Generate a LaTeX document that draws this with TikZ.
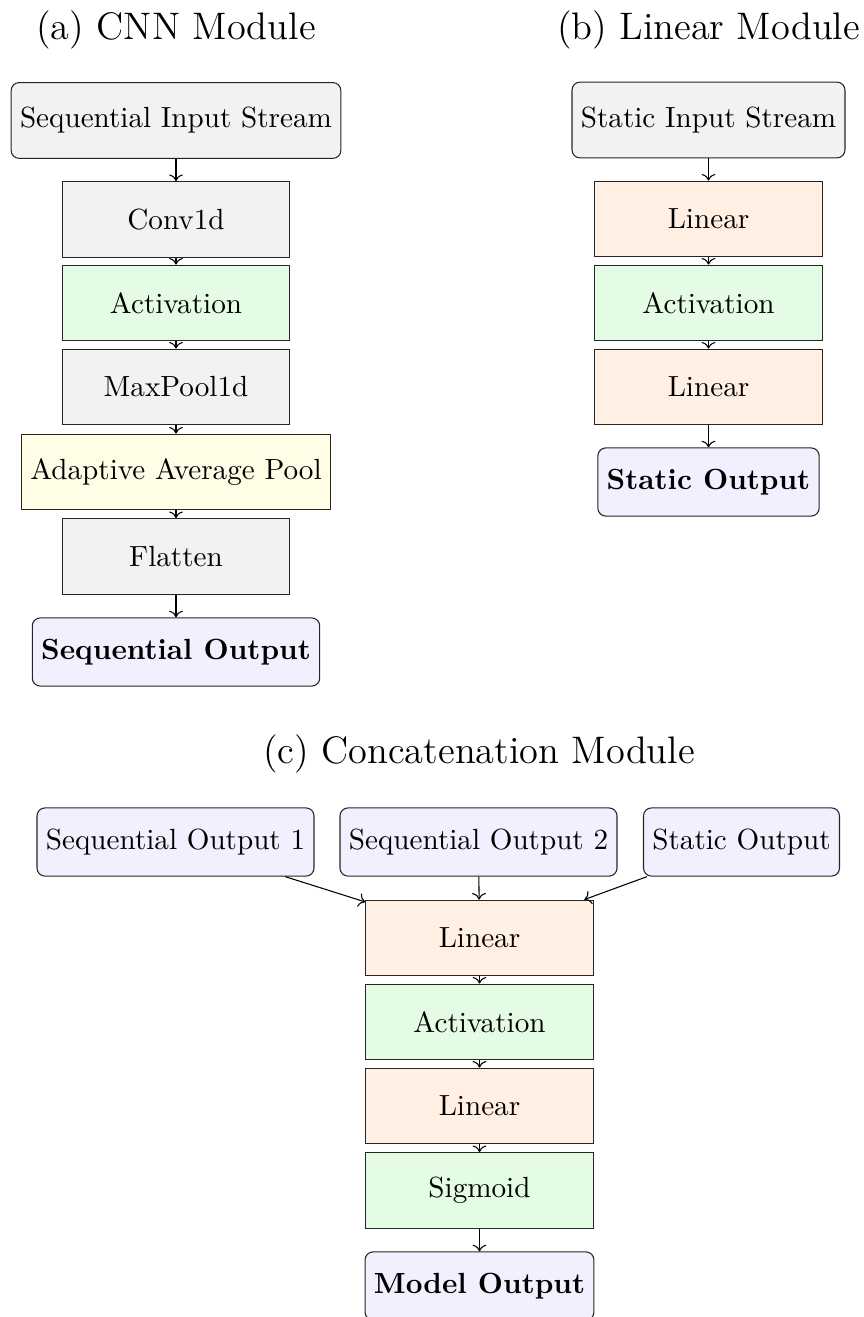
\documentclass[tikz,border=0pt]{standalone}
\usetikzlibrary{arrows.meta}
\definecolor{cgray}{HTML}{F2F2F2}
\definecolor{cgreen}{HTML}{E3FCE3}
\definecolor{corange}{HTML}{FFF0E3}
\definecolor{cyellow}{HTML}{FFFDE6}
\definecolor{cblue}{HTML}{F0F0FE}
\begin{document}
\begin{tikzpicture}[x=0.013193cm,y=-0.013193cm,
  base/.style={draw=black!85, font=\fontsize{10.95}{13.6}\selectfont, inner sep=0.3333em},
  inbox/.style={base, rounded corners=3pt, fill=cgray, minimum height=1cm},
  layer/.style={base, minimum width=3cm, minimum height=1cm},
  graybox/.style={layer, fill=cgray},
  greenbox/.style={layer, fill=cgreen},
  orangebox/.style={layer, fill=corange},
  yellowbox/.style={layer, fill=cyellow},
  outbox/.style={base, rounded corners=3pt, fill=cblue, minimum height=0.9cm},
  boldout/.style={outbox, font=\fontsize{10.95}{13.6}\selectfont\bfseries},
  title/.style={font=\Large, inner sep=0pt},
  flow/.style={->, black}
]
\useasboundingbox (0,0) rectangle (863,1317);

% titles
\node[title] (ta) at (176,30) {(a) CNN Module};
\node[title] (tb) at (708.5,30) {(b) Linear Module};
\node[title] (tc) at (479,754) {(c) Concatenation Module};

% (a) CNN module
\node[inbox]     (sin)   at (176,120.5) {Sequential Input Stream};
\node[graybox]   (conv)  at (176,219.5) {Conv1d};
\node[greenbox]  (acta)  at (176,303)   {Activation};
\node[graybox]   (pool)  at (176,387)   {MaxPool1d};
\node[yellowbox] (adapt) at (176,472)   {Adaptive Average Pool};
\node[graybox]   (flat)  at (176,556.5) {Flatten};
\node[boldout]   (sout)  at (176,652)   {Sequential Output};

\draw[flow] (sin) -- (conv);
\draw[flow] (conv) -- (acta);
\draw[flow] (acta) -- (pool);
\draw[flow] (pool) -- (adapt);
\draw[flow] (adapt) -- (flat);
\draw[flow] (flat) -- (sout);

% (b) Linear module
\node[inbox]     (stin)  at (708.5,120) {Static Input Stream};
\node[orangebox] (linb1) at (708.5,219) {Linear};
\node[greenbox]  (actb)  at (708.5,303) {Activation};
\node[orangebox] (linb2) at (708.5,387) {Linear};
\node[boldout]   (stout) at (708.5,482) {Static Output};

\draw[flow] (stin) -- (linb1);
\draw[flow] (linb1) -- (actb);
\draw[flow] (actb) -- (linb2);
\draw[flow] (linb2) -- (stout);

% (c) Concatenation module
\node[outbox]    (so1)   at (175.5,842) {Sequential Output 1};
\node[outbox]    (so2)   at (478.5,842) {Sequential Output 2};
\node[outbox]    (sto)   at (741.5,842) {Static Output};
\node[orangebox] (linc1) at (479.5,938) {Linear};
\node[greenbox]  (actc)  at (479.5,1022) {Activation};
\node[orangebox] (linc2) at (479.5,1106) {Linear};
\node[greenbox]  (sig)   at (479.5,1190.5) {Sigmoid};
\node[boldout]   (mout)  at (479.5,1286) {Model Output};

\draw[flow] (so1) -- (linc1);
\draw[flow] (so2) -- (linc1);
\draw[flow] (sto) -- (linc1);
\draw[flow] (linc1) -- (actc);
\draw[flow] (actc) -- (linc2);
\draw[flow] (linc2) -- (sig);
\draw[flow] (sig) -- (mout);
\end{tikzpicture}
\end{document}
